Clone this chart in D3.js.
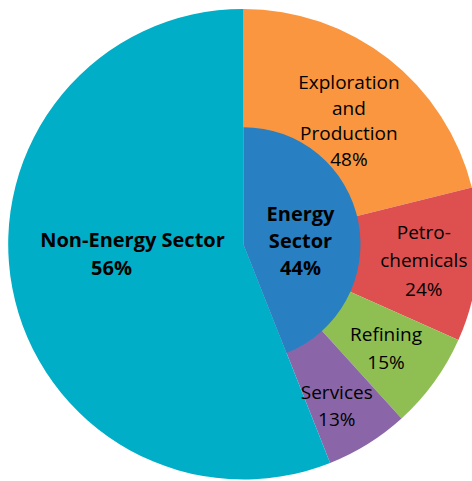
<!DOCTYPE html>
<html><head><meta charset="utf-8">
<script src="https://cdn.jsdelivr.net/npm/d3@7"></script>
<style>html,body{margin:0;padding:0;background:#fff;}svg{display:block;}</style>
</head><body>
<svg id="c" width="472" height="481"></svg>
<script>
// Data
const sectors = ["Energy Sector", "Non-Energy Sector"];
const sectorValues = [44, 56];
const subsectors = ["Exploration and Production", "Petro-chemicals", "Refining", "Services"];
const subsectorValues = [48, 24, 15, 13];
const subsectorLines = [["Exploration", "and", "Production"], ["Petro-", "chemicals"], ["Refining"], ["Services"]];
const sectorLines = [["Energy", "Sector"], ["Non-Energy Sector"]];

const subColors = ["#F9963F", "#DE4F4F", "#8FBE53", "#8A66A8"];
const sectorColors = ["#2880C2", "#00AEC7"];

const svg = d3.select("#c");
const cx = 243.5, cy = 244.2, R = 235.3, r0 = 117;
const g = svg.append("g").attr("transform", `translate(${cx},${cy})`);

const energyShare = sectorValues[0] / d3.sum(sectorValues);
const outerData = subsectors.map((s, i) => ({name: s, value: subsectorValues[i] * energyShare, pct: subsectorValues[i], color: subColors[i], lines: subsectorLines[i]}))
  .concat([{name: sectors[1], value: sectorValues[1] * d3.sum(subsectorValues) / 100, pct: sectorValues[1], color: sectorColors[1], lines: sectorLines[1], bold: true}]);

const pie = d3.pie().sort(null).value(d => d.value);
const outerArcs = pie(outerData);
const arcOuter = d3.arc().innerRadius(0).outerRadius(R);
g.selectAll("path.o").data(outerArcs).join("path").attr("class", "o")
  .attr("d", arcOuter).attr("fill", d => d.data.color);

const innerArcs = d3.pie().sort(null)(sectorValues);
const arcInner = d3.arc().innerRadius(0).outerRadius(r0);
g.append("path").datum(innerArcs[0]).attr("d", arcInner).attr("fill", sectorColors[0]);

function label(x, y, lines, lh, size, weight) {
  const t = g.append("text").attr("text-anchor", "middle")
    .style("font-family", "'Open Sans', sans-serif").style("font-size", size + "px")
    .style("font-weight", weight).attr("fill", "#000");
  const n = lines.length;
  lines.forEach((l, i) => {
    t.append("tspan").attr("x", x).attr("y", y + (i - (n - 1) / 2) * lh).attr("dy", "0.35em").text(l);
  });
  return t;
}
const polar = (a, rad) => [rad * Math.sin(a), -rad * Math.cos(a)];
const labelRadius = [163, 178, 176, 186];
const labelNudge = [[5, 5], [3, 1], [0, 1], [-5, 4]];
const lhs = [25.5, 28.5, 28, 27];
const NS = 19, BS = 20;
outerArcs.slice(0, 4).forEach((a, i) => {
  const mid = (a.startAngle + a.endAngle) / 2;
  const [x, y] = polar(mid, labelRadius[i]);
  label(x + labelNudge[i][0], y + labelNudge[i][1], a.data.lines.concat([a.data.pct + "%"]), lhs[i], NS, "normal");
});
{
  const [x, y] = polar(Math.PI / 2, 57);
  label(x, y - 3, sectorLines[0].concat([sectorValues[0] + "%"]), 27, BS, "bold");
}
{
  const [x, y] = polar(-Math.PI / 2, 111);
  const t = g.append("g").style("font-family", "'Open Sans', sans-serif").style("font-size", BS + "px").style("font-weight", "bold");
  t.append("text").attr("x", x).attr("y", y - 4).attr("dy", "0.35em").attr("text-anchor", "middle").text(sectorLines[1][0]);
  t.append("text").attr("x", x - 21).attr("y", y + 24).attr("dy", "0.35em").attr("text-anchor", "middle").text(sectorValues[1] + "%");
}
</script>
</body></html>
